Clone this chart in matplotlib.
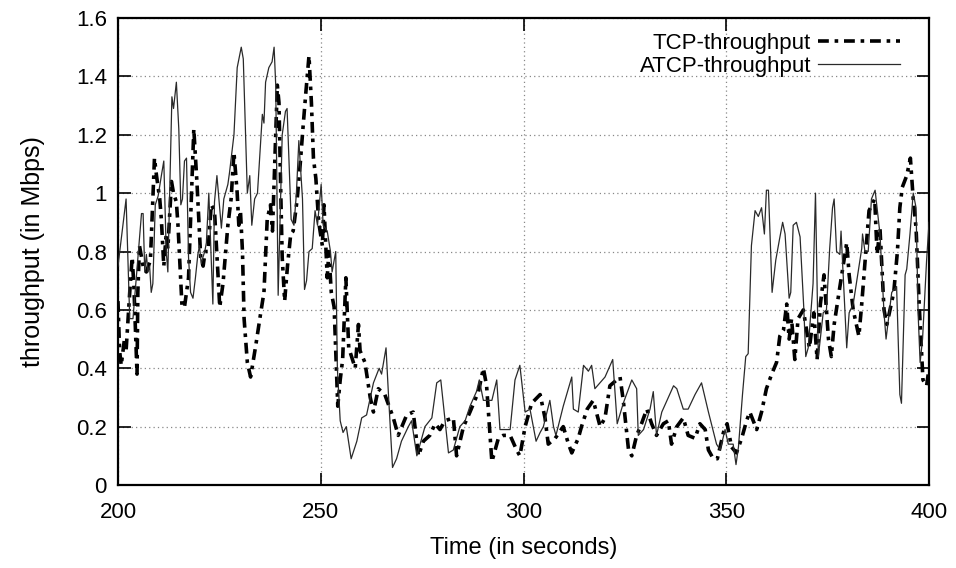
import numpy as np
import matplotlib
matplotlib.use('Agg')
import matplotlib.pyplot as plt
from matplotlib.ticker import FuncFormatter, MultipleLocator

# ATCP throughput (solid)
atcp_t = [200, 202, 202.9, 203.7, 205.8, 206.2, 206.6, 207, 207.4, 207.8, 208.2, 208.6,
          209.2, 209.9, 210.7, 211.3, 211.9, 212.3, 213.3, 213.7, 214.4, 215, 215.5, 215.9,
          216.4, 216.9, 217.4, 217.9, 218.5, 219.1, 219.7, 220.1, 220.5, 221.4, 221.8, 222.4,
          223.4, 223.8, 224.4, 225.5, 226.1, 227.1, 227.5, 228.6, 229.4, 230.4, 230.9, 231.9,
          232.5, 233, 233.7, 234.4, 235.6, 236, 236.4, 237.2, 238, 238.5, 238.9, 239.5,
          240.5, 241.3, 241.7, 242.7, 243.4, 244, 244.6, 245.5, 246, 246.5, 247.1, 247.9,
          248.6, 249.2, 250.1, 250.6, 251.6, 252.4, 252.8, 253.7, 254.1, 254.8, 255.5, 256.3,
          257.5, 258.9, 260.1, 261.3, 263, 264.4, 265, 266.1, 266.7, 267.7, 268.7, 269.9,
          271.6, 272.4, 273.7, 275.7, 277.4, 278.6, 279.6, 280.6, 281.5, 282.7, 284.3, 285.6,
          286.8, 288.4, 289.1, 290.1, 292.2, 293.4, 294.2, 296.7, 297.9, 299.1, 300.4, 301.6,
          303.1, 304.1, 304.9, 306.5, 307.4, 308, 309.8, 311.5, 311.9, 312.3, 313.5, 314.8,
          316, 316.8, 317.6, 320.1, 322, 323.1, 324.6, 326.7, 327.9, 328.3, 329.6, 331.2,
          332, 332.8, 334.1, 337, 337.8, 339.4, 340.6, 342.3, 343.9, 345.6, 347.6, 348.5,
          349.7, 350.5, 351.7, 352.4, 353, 354, 354.8, 355.4, 356.2, 357.1, 357.9, 358.7,
          359.4, 359.9, 360.4, 361.3, 362.2, 363.1, 363.9, 364.5, 365.5, 365.9, 366.5, 367.3,
          368.2, 369.1, 369.6, 370.2, 371.4, 372, 372.7, 373.9, 374.7, 375.5, 376.2, 376.6,
          377.2, 378, 378.3, 379.7, 380.3, 381.3, 383.4, 383.6, 384.2, 385, 385.8, 386.7,
          387.9, 388.9, 389.4, 390.8, 392, 392.8, 393.2, 394.1, 394.5, 395.3, 396.1, 396.8,
          397.3, 397.8, 398.4, 399.4, 400]
atcp_v = [0.75, 0.98, 0.57, 0.57, 0.93, 0.93, 0.73, 0.79, 0.73, 0.75, 0.66, 0.69,
          0.96, 0.99, 1.06, 1.11, 0.80, 0.73, 1.33, 1.29, 1.38, 1.22, 0.96, 0.98,
          1.11, 1.12, 0.78, 0.66, 0.64, 0.71, 0.79, 0.82, 0.76, 0.80, 0.83, 1.00,
          0.62, 0.97, 1.06, 0.88, 0.98, 1.03, 1.07, 1.20, 1.43, 1.50, 1.46, 1.00,
          1.06, 0.89, 0.98, 1.00, 1.27, 1.24, 1.38, 1.43, 1.45, 1.50, 1.37, 0.65,
          1.20, 1.28, 1.29, 0.91, 0.89, 1.00, 1.18, 0.98, 0.67, 0.70, 0.80, 0.81,
          0.94, 0.89, 1.03, 0.89, 0.87, 0.80, 0.73, 0.80, 0.40, 0.22, 0.18, 0.20,
          0.09, 0.15, 0.23, 0.24, 0.35, 0.40, 0.38, 0.47, 0.31, 0.06, 0.09, 0.15,
          0.20, 0.22, 0.10, 0.20, 0.23, 0.35, 0.36, 0.23, 0.11, 0.12, 0.20, 0.22,
          0.27, 0.32, 0.36, 0.29, 0.29, 0.36, 0.19, 0.19, 0.36, 0.41, 0.25, 0.26,
          0.15, 0.18, 0.20, 0.29, 0.20, 0.17, 0.27, 0.35, 0.37, 0.26, 0.25, 0.41,
          0.39, 0.41, 0.33, 0.37, 0.43, 0.21, 0.28, 0.36, 0.33, 0.17, 0.19, 0.26,
          0.32, 0.17, 0.25, 0.34, 0.33, 0.26, 0.26, 0.31, 0.35, 0.25, 0.14, 0.12,
          0.19, 0.14, 0.14, 0.07, 0.13, 0.31, 0.44, 0.45, 0.82, 0.94, 0.92, 0.95,
          0.86, 1.01, 1.01, 0.66, 0.77, 0.84, 0.90, 0.86, 0.64, 0.66, 0.89, 0.90,
          0.85, 0.61, 0.44, 0.47, 0.69, 1.00, 0.44, 0.59, 0.60, 0.81, 0.95, 0.98,
          0.80, 0.79, 0.87, 0.47, 0.59, 0.62, 0.81, 0.86, 0.80, 0.80, 0.98, 1.01,
          0.86, 0.59, 0.50, 0.66, 0.68, 0.31, 0.28, 0.72, 0.74, 0.86, 1.00, 0.95,
          0.59, 0.42, 0.50, 0.77, 0.90]

# TCP throughput (dash-dot)
tcp_t = [200, 200.4, 200.8, 201.6, 202, 202.9, 203.5, 203.9, 204.7, 204.9, 205.3, 206.2,
         207, 208, 209, 209.5, 210.3, 210.7, 211.3, 211.9, 212.3, 213.2, 213.7, 214.4,
         214.8, 215.8, 216.4, 216.9, 217.4, 218.7, 219.5, 220.4, 221, 221.5, 222.2, 223,
         223.8, 225.1, 225.9, 227.1, 227.9, 228.6, 229.4, 229.8, 230.2, 230.7, 231.1, 231.9,
         232.7, 234, 235.2, 236, 236.8, 237.6, 238.1, 239.3, 239.7, 240.1, 240.5, 241.1,
         241.8, 242.6, 243.2, 244.2, 245, 245.6, 246.3, 247.1, 247.7, 248.2, 248.8, 249.5,
         250.4, 250.8, 251.6, 252, 252.6, 253.3, 253.7, 254.2, 254.8, 255.4, 256.2, 256.9,
         257.6, 258.5, 259.3, 259.7, 260.9, 262.2, 263, 264.2, 265.8, 267.9, 269.1, 271.2,
         272.8, 274.1, 275.3, 276.9, 278.2, 279.4, 280.6, 282.7, 283.5, 285.2, 286.8, 288.9,
         290.1, 290.9, 292.2, 293.8, 295, 296.7, 298.3, 299.1, 300.4, 302, 304.1, 305.3,
         306.1, 307.8, 309.8, 311.1, 311.9, 313.5, 314.3, 315.7, 317.2, 318.9, 320.1, 321.3,
         323.8, 324.6, 325.9, 326.7, 327.9, 329.1, 330.4, 331.6, 332.8, 334.5, 335.7, 336.5,
         337.8, 339.4, 340.6, 342.3, 343.5, 344.8, 345.6, 346.8, 347.8, 349.3, 350.2, 351.3,
         352.5, 353.8, 355, 355.8, 357.5, 358.7, 359.9, 361.2, 362.4, 363.2, 364.1, 364.9,
         365.5, 366.1, 366.9, 367.7, 369, 370.5, 371.6, 372.4, 373.2, 374.1, 375.2, 375.9,
         376.6, 377.8, 379.7, 380.3, 381.3, 382.7, 383.4, 385.2, 386.6, 387.2, 387.9, 388.9,
         389.6, 391.3, 392.2, 392.8, 393.4, 394.5, 395.4, 396.1, 396.8, 397.6, 398.5, 399.4,
         400]
tcp_v = [0.63, 0.46, 0.41, 0.50, 0.46, 0.66, 0.78, 0.69, 0.38, 0.66, 0.82, 0.75,
         0.73, 0.77, 1.12, 1.06, 0.98, 0.91, 0.75, 0.86, 0.81, 1.04, 1.00, 0.97,
         0.89, 0.61, 0.61, 0.66, 0.71, 1.22, 1.03, 0.78, 0.75, 0.80, 0.80, 0.96,
         0.94, 0.61, 0.69, 0.89, 0.98, 1.14, 1.00, 0.89, 0.94, 0.80, 0.57, 0.42,
         0.37, 0.48, 0.59, 0.66, 0.91, 0.96, 0.87, 1.37, 1.31, 1.03, 0.78, 0.63,
         0.75, 0.86, 0.87, 0.98, 1.11, 1.22, 1.34, 1.47, 1.31, 1.12, 1.05, 0.90,
         0.82, 0.96, 0.71, 0.80, 0.66, 0.61, 0.46, 0.27, 0.36, 0.43, 0.71, 0.47,
         0.44, 0.40, 0.55, 0.46, 0.42, 0.30, 0.25, 0.33, 0.31, 0.23, 0.17, 0.24,
         0.25, 0.10, 0.15, 0.17, 0.21, 0.19, 0.22, 0.23, 0.10, 0.20, 0.25, 0.32,
         0.40, 0.34, 0.08, 0.16, 0.17, 0.17, 0.12, 0.10, 0.20, 0.28, 0.31, 0.23,
         0.14, 0.16, 0.20, 0.14, 0.11, 0.16, 0.20, 0.26, 0.29, 0.20, 0.23, 0.34,
         0.37, 0.29, 0.12, 0.10, 0.17, 0.21, 0.26, 0.21, 0.17, 0.21, 0.22, 0.14,
         0.20, 0.23, 0.17, 0.16, 0.21, 0.19, 0.12, 0.09, 0.09, 0.18, 0.21, 0.13,
         0.11, 0.16, 0.22, 0.25, 0.19, 0.25, 0.33, 0.38, 0.42, 0.51, 0.53, 0.62,
         0.50, 0.57, 0.43, 0.57, 0.60, 0.47, 0.59, 0.43, 0.62, 0.72, 0.50, 0.44,
         0.55, 0.66, 0.83, 0.72, 0.60, 0.51, 0.62, 0.94, 0.98, 0.79, 0.88, 0.60,
         0.55, 0.66, 0.80, 0.95, 1.02, 1.06, 1.12, 0.98, 0.88, 0.61, 0.36, 0.34,
         0.40]

plt.rcParams['font.family'] = ['Liberation Sans', 'DejaVu Sans']
plt.rcParams['font.size'] = 16

fig = plt.figure(figsize=(9.56, 5.68), dpi=100)
ax = fig.add_axes([0.1234, 0.1461, 0.8484, 0.8222])

ax.plot(tcp_t, tcp_v, color='black', lw=2.6, linestyle=(0, (3, 1.6, 1, 1.6)),
        label='TCP-throughput', zorder=3)
ax.plot(atcp_t, atcp_v, color='#2a2a2a', lw=0.9, label='ATCP-throughput', zorder=4)

ax.set_xlim(200, 400)
ax.set_ylim(0, 1.6)
ax.xaxis.set_major_locator(MultipleLocator(50))
ax.yaxis.set_major_locator(MultipleLocator(0.2))
ax.yaxis.set_major_formatter(FuncFormatter(lambda v, p: '%g' % round(v, 2)))

ax.grid(True, color='#888888', linestyle=(0, (1, 2.5)), lw=0.9)
ax.tick_params(direction='in', length=9, width=1.2, top=True, right=True,
               labelsize=16, pad=8)
ax.tick_params(axis='x', pad=12)
for s in ax.spines.values():
    s.set_linewidth(1.6)

ax.set_xlabel('Time (in seconds)', fontsize=17, labelpad=10)
ax.set_ylabel('throughput (in Mbps)', fontsize=18, labelpad=22)

leg = ax.legend(loc='upper right', bbox_to_anchor=(0.964, 0.968), frameon=False,
                markerfirst=False, handlelength=3.7, handletextpad=0.3,
                labelspacing=0.1, borderpad=0, borderaxespad=0, fontsize=16)

fig.savefig('out.png', dpi=100)
